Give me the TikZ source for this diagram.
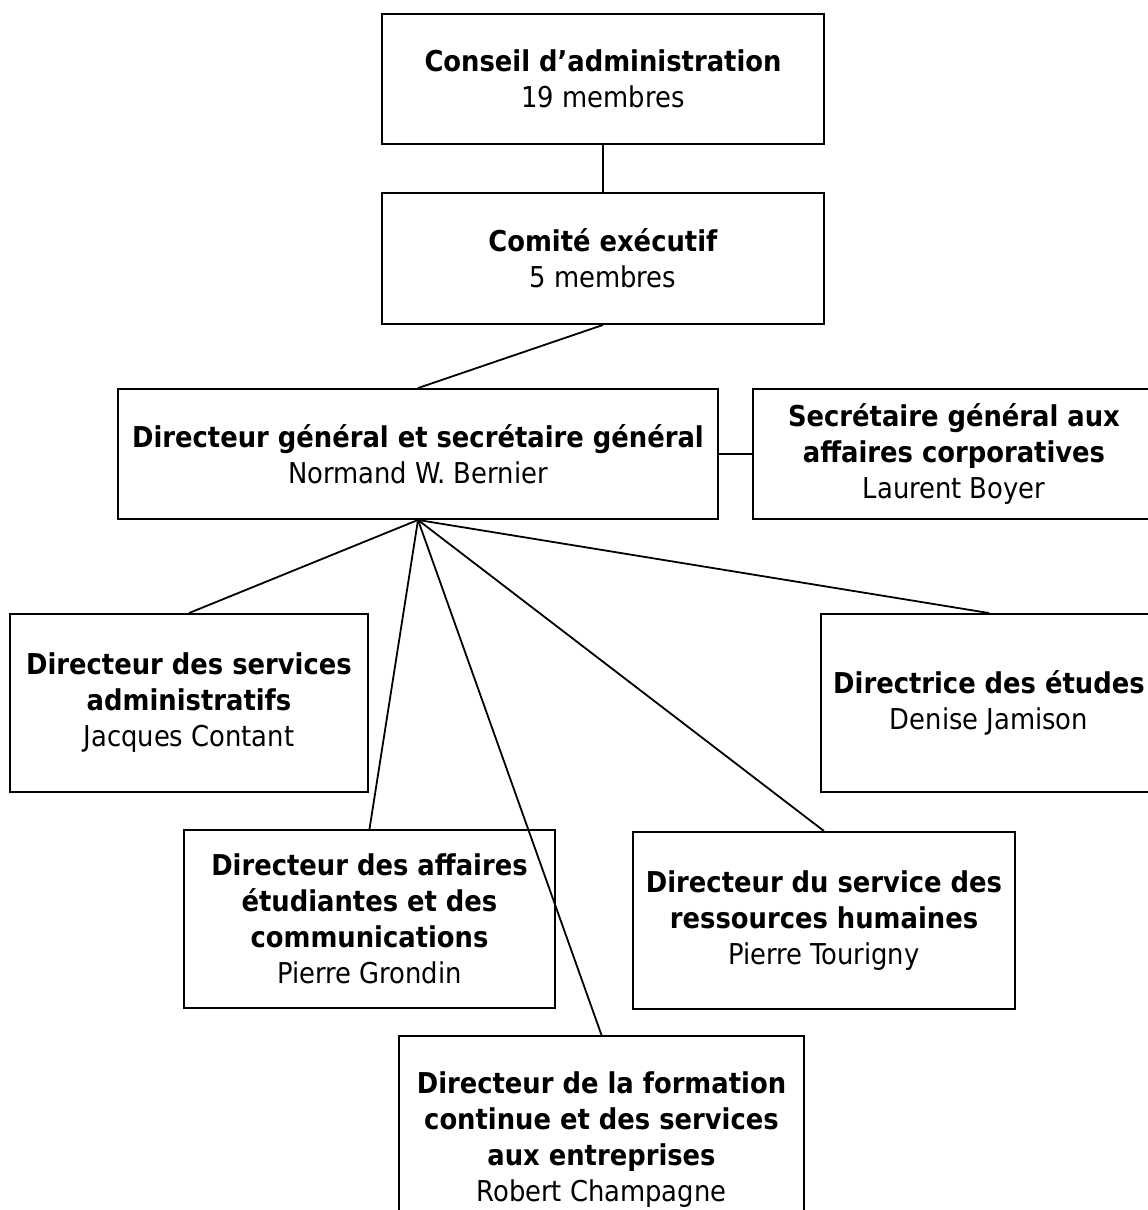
\documentclass[tikz,border=0pt]{standalone}
\usepackage{fontspec}
\setmainfont{DejaVu Sans Condensed}
\begin{document}
\begin{tikzpicture}[x=1pt,y=-1pt,
  box/.style={draw=black,line width=1.9pt,rectangle,align=center,inner sep=0pt,
    font=\fontsize{28.7}{36}\selectfont},
  link/.style={draw=black,line width=1.8pt}]
\useasboundingbox (0,0) rectangle (1148,1210);
\node[box,minimum width=442pt,minimum height=130pt] (ca) at (603,79)
  {\textbf{Conseil d’administration}\\19 membres};
\node[box,minimum width=442pt,minimum height=131pt] (ce) at (603,258.5)
  {\textbf{Comité exécutif}\\5 membres};
\node[box,minimum width=600pt,minimum height=130pt] (dg) at (418,454)
  {\textbf{Directeur général et secrétaire général}\\Normand W. Bernier};
\node[box,minimum width=402pt,minimum height=130pt] (sg) at (954,454)
  {\textbf{Secrétaire général aux}\\\textbf{affaires corporatives}\\Laurent Boyer};
\node[box,minimum width=358pt,minimum height=178pt] (sa) at (189,703)
  {\textbf{Directeur des services}\\\textbf{administratifs}\\Jacques Contant};
\node[box,minimum width=336pt,minimum height=178pt] (de) at (989,703)
  {\textbf{Directrice des études}\\Denise Jamison};
\node[box,minimum width=371pt,minimum height=178pt] (ae) at (369.5,919)
  {\textbf{Directeur des affaires}\\\textbf{étudiantes et des}\\\textbf{communications}\\Pierre Grondin};
\node[box,minimum width=382pt,minimum height=177pt] (rh) at (824,920.5)
  {\textbf{Directeur du service des}\\\textbf{ressources humaines}\\Pierre Tourigny};
\node[box,minimum width=405pt,minimum height=208pt] (fc) at (601.5,1140)
  {\textbf{Directeur de la formation}\\\textbf{continue et des services}\\\textbf{aux entreprises}\\Robert Champagne};
\draw[link] (ca.south) -- (ce.north);
\draw[link] (ce.south) -- (dg.north);
\draw[link] (dg.east) -- (sg.west);
\draw[link] (dg.south) -- (sa.north);
\draw[link] (dg.south) -- (ae.north);
\draw[link] (dg.south) -- (fc.north);
\draw[link] (dg.south) -- (rh.north);
\draw[link] (dg.south) -- (de.north);
\end{tikzpicture}
\end{document}
